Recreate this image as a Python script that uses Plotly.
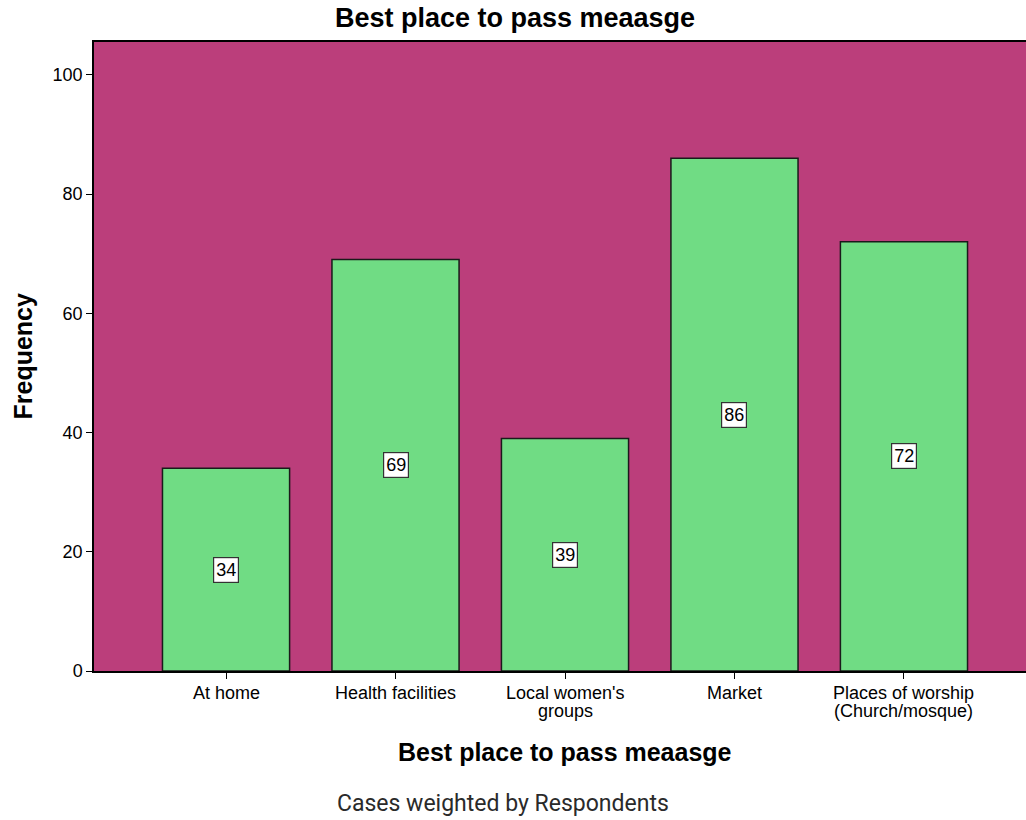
import plotly.graph_objects as go

categories = ["At home", "Health facilities", "Local women's\ngroups", "Market",
              "Places of worship\n(Church/mosque)"]
frequencies = [34, 69, 39, 86, 72]
y_ticks = [0, 20, 40, 60, 80, 100]

positions = list(range(len(categories)))
FONT = "Liberation Sans, Arial, sans-serif"

fig = go.Figure(go.Bar(
    x=positions,
    y=frequencies,
    width=0.75,
    marker=dict(color="#70DC84", line=dict(color="#1a1a1a", width=1.5)),
    hoverinfo="skip",
))

# value boxes in the middle of each bar
for xp, v in zip(positions, frequencies):
    fig.add_annotation(
        x=xp, y=v / 2, text=str(v), showarrow=False,
        font=dict(family=FONT, size=18, color="black"),
        bgcolor="white", bordercolor="#333333", borderwidth=1.2, borderpad=2,
    )

# category labels under the ticks, with tight line spacing
for xp, name in zip(positions, categories):
    for i, line in enumerate(name.split("\n")):
        fig.add_annotation(
            x=xp, xref="x", y=0, yref="paper", text=line, showarrow=False,
            xanchor="center", yanchor="middle", yshift=-22 - 18 * i,
            font=dict(family=FONT, size=18, color="black"),
        )

# axis titles and footnote
fig.add_annotation(
    text="<b>Best place to pass meaasge</b>", xref="paper", yref="paper",
    x=0.505, y=0, yshift=-81, xanchor="center", yanchor="middle", showarrow=False,
    font=dict(family=FONT, size=25, color="black"),
)
fig.add_annotation(
    text="<b>Frequency</b>", xref="paper", yref="paper", textangle=-90,
    x=0, xshift=-72, y=0.5, xanchor="center", yanchor="middle", showarrow=False,
    font=dict(family=FONT, size=25, color="black"),
)
fig.add_annotation(
    text="Cases weighted by Respondents", xref="paper", yref="paper",
    x=0.439, y=0, yshift=-132, xanchor="center", yanchor="middle", showarrow=False,
    font=dict(family="Roboto, Liberation Sans", size=23, color="#2a2a2a"),
)

fig.update_layout(
    width=1026, height=820,
    margin=dict(l=94, r=0, t=42, b=149),
    paper_bgcolor="white",
    plot_bgcolor="#BB3E7B",
    showlegend=False,
    title=dict(
        text="<b>Best place to pass meaasge</b>", x=515 / 1026, xanchor="center",
        xref="container", y=1 - 18 / 820, yanchor="middle", yref="container",
        font=dict(family=FONT, size=27, color="black"),
    ),
    font=dict(family=FONT, size=18, color="black"),
)

fig.update_xaxes(
    tickmode="array", tickvals=positions, showticklabels=False,
    range=[-0.779, 4.72],
    showgrid=False, zeroline=False,
    showline=True, linecolor="black", linewidth=1.5, mirror=True,
    ticks="outside", ticklen=6, tickcolor="black",
)

fig.update_yaxes(
    tickmode="array", tickvals=y_ticks,
    range=[0, 105.5],
    showgrid=False, zeroline=False,
    showline=True, linecolor="black", linewidth=1.5,
    ticks="outside", ticklen=6, tickcolor="black",
    tickfont=dict(family=FONT, size=18, color="black"),
)

fig.write_html("out.html")
